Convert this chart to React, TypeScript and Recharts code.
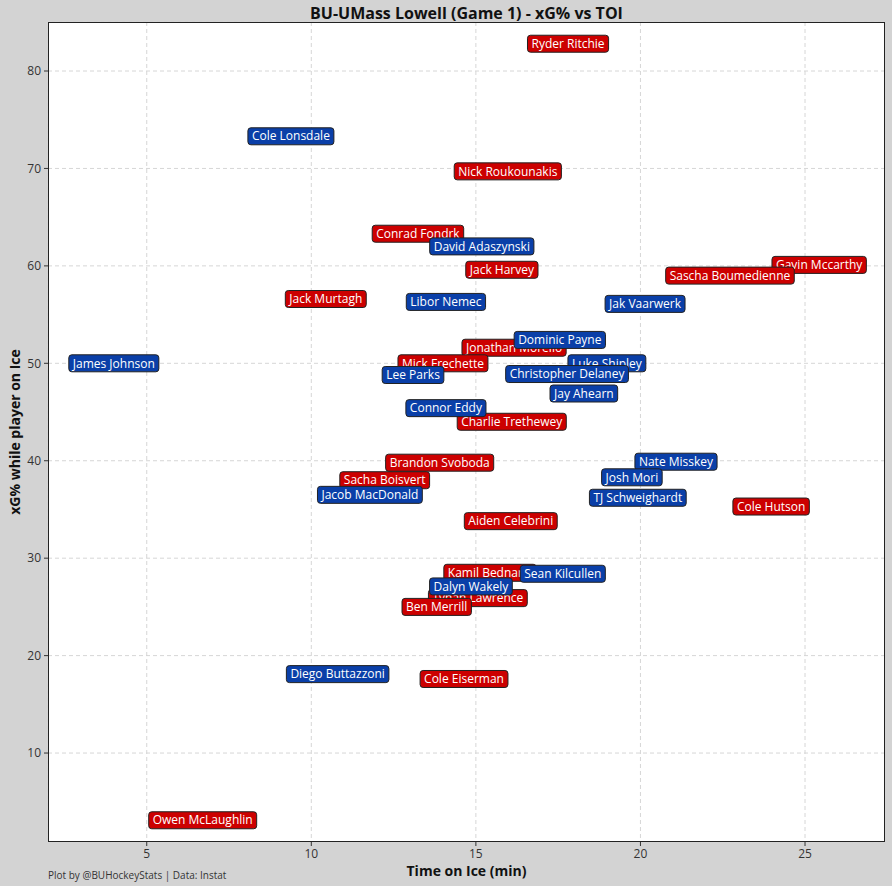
import React from "react"
import { ScatterChart, Scatter, XAxis, YAxis, CartesianGrid } from "recharts"

// BU (red)
const buNames = [
  "Ryder Ritchie", "Nick Roukounakis", "Conrad Fondrk", "Jack Harvey", "Gavin Mccarthy",
  "Sascha Boumedienne", "Jack Murtagh", "Jonathan Morello", "Mick Frechette", "Charlie Trethewey",
  "Brandon Svoboda", "Sacha Boisvert", "Cole Hutson", "Aiden Celebrini", "Kamil Bednarik",
  "Tynan Lawrence", "Ben Merrill", "Cole Eiserman", "Owen McLaughlin",
]
const buToi = [17.8, 15.97, 13.24, 15.79, 25.43, 22.72, 10.44, 16.16, 14.0, 16.09, 13.9, 12.23, 23.97, 16.06, 15.43, 15.06, 13.81, 14.64, 6.7]
const buXg = [82.8, 69.7, 63.3, 59.6, 60.1, 59.0, 56.6, 51.6, 50.0, 44.0, 39.8, 38.0, 35.3, 33.8, 28.5, 25.9, 25.0, 17.6, 3.1]

// UMass Lowell (blue)
const umlNames = [
  "Cole Lonsdale", "David Adaszynski", "Libor Nemec", "Jak Vaarwerk", "Dominic Payne",
  "James Johnson", "Luke Shipley", "Lee Parks", "Christopher Delaney", "Jay Ahearn",
  "Connor Eddy", "Nate Misskey", "Josh Mori", "Jacob MacDonald", "TJ Schweighardt",
  "Sean Kilcullen", "Dalyn Wakely", "Diego Buttazzoni",
]
const umlToi = [9.38, 15.18, 14.09, 20.14, 17.55, 4.0, 18.98, 13.09, 17.77, 18.28, 14.09, 21.08, 19.74, 11.78, 19.92, 17.64, 14.85, 10.8]
const umlXg = [73.3, 62.0, 56.3, 56.1, 52.4, 50.0, 50.0, 48.8, 48.9, 46.9, 45.4, 39.9, 38.3, 36.5, 36.2, 28.4, 27.1, 18.1]

const xTicks = [5, 10, 15, 20, 25]
const yTicks = [10, 20, 30, 40, 50, 60, 70, 80]

const buData = buNames.map((name, i) => ({ name, toi: buToi[i], xg: buXg[i] }))
const umlData = umlNames.map((name, i) => ({ name, toi: umlToi[i], xg: umlXg[i] }))

const FONT = "'Open Sans', 'Noto Sans', sans-serif"
const LABEL_SIZE = 12

let ctx: CanvasRenderingContext2D | null = null
function textWidth(s: string) {
  if (!ctx) ctx = document.createElement("canvas").getContext("2d")
  if (!ctx) return s.length * 6.5
  ctx.font = `${LABEL_SIZE}px 'Open Sans'`
  return ctx.measureText(s).width
}

const makeLabel = (fill: string) => (props: any) => {
  const { cx, cy, payload } = props
  const w = textWidth(payload.name) + 8
  const h = 17
  return (
    <g>
      <rect x={cx - w / 2} y={cy - h / 2} width={w} height={h} rx={3} ry={3} fill={fill} stroke="#222" strokeWidth={1} />
      <text x={cx} y={cy} dy="0.35em" textAnchor="middle" fill="#fff" fontSize={LABEL_SIZE} fontFamily={FONT}>
        {payload.name}
      </text>
    </g>
  )
}

export default function App() {
  return (
    <div style={{ position: "fixed", left: 0, top: 0, width: 892, height: 886, background: "#d3d3d3", fontFamily: FONT }}>
      <ScatterChart width={892} height={886} margin={{ top: 22, right: 7, bottom: 0, left: 0 }}>
        <CartesianGrid fill="#ffffff" stroke="#d6d6d6" strokeDasharray="4 3" />
        <XAxis
          type="number"
          dataKey="toi"
          domain={[2.0, 27.43]}
          ticks={xTicks}
          height={44}
          tickSize={4}
          tickMargin={3}
          axisLine={false}
          tickLine={{ stroke: "#333" }}
          tick={{ fill: "#333", fontSize: 12, fontFamily: FONT }}
          allowDataOverflow
        />
        <YAxis
          type="number"
          dataKey="xg"
          domain={[0.87, 85.03]}
          ticks={yTicks}
          width={48}
          tickSize={4}
          tickMargin={3}
          axisLine={false}
          tickLine={{ stroke: "#333" }}
          tick={{ fill: "#333", fontSize: 12, fontFamily: FONT }}
          allowDataOverflow
        />
        <Scatter data={buData} shape={makeLabel("#cc0000")} isAnimationActive={false} />
        <Scatter data={umlData} shape={makeLabel("#0a3fa8")} isAnimationActive={false} />
      </ScatterChart>
      <div style={{ position: "absolute", left: 48, top: 22, width: 837, height: 820, border: "1px solid #222", boxSizing: "border-box", pointerEvents: "none" }} />
      <div style={{ position: "absolute", left: 48, width: 837, top: 2, textAlign: "center", fontSize: 16, fontWeight: 700, color: "#111" }}>
        BU-UMass Lowell (Game 1) - xG% vs TOI
      </div>
      <div style={{ position: "absolute", left: 48, width: 837, top: 861, textAlign: "center", fontSize: 14, fontWeight: 700, color: "#111" }}>
        Time on Ice (min)
      </div>
      <div style={{ position: "absolute", left: 14, top: 432, transform: "translate(-50%, -50%) rotate(-90deg)", whiteSpace: "nowrap", fontSize: 14, fontWeight: 700, color: "#111" }}>
        xG% while player on Ice
      </div>
      <div style={{ position: "absolute", left: 48, top: 868, fontSize: 10, color: "#333" }}>
        Plot by @BUHockeyStats | Data: Instat
      </div>
    </div>
  )
}
